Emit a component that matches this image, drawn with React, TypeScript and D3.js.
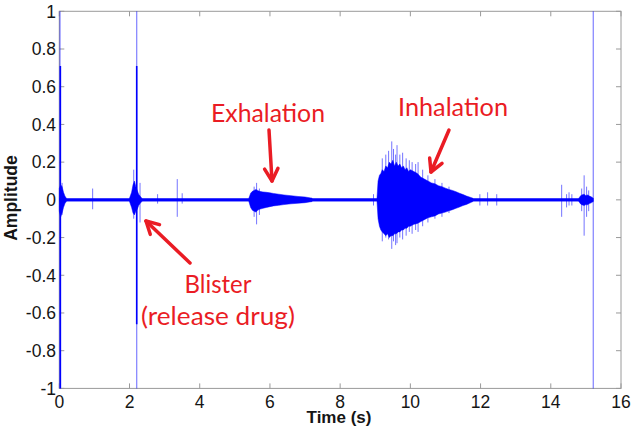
import React from "react";
import * as d3 from "d3";

// ---- axis ticks ----
const xTicks = [0, 2, 4, 6, 8, 10, 12, 14, 16];
const yTicks = [-1, -0.8, -0.6, -0.4, -0.2, 0, 0.2, 0.4, 0.6, 0.8, 1];
const yTickLabels = ["-1", "-0.8", "-0.6", "-0.4", "-0.2", "0", "0.2", "0.4", "0.6", "0.8", "1"];

// ---- baseline noise band ----
const baselineSpan = [0.0, 15.21];
const baselineNoise = 0.0085;

// ---- dense bursts (envelopes) ----
const startT = [0.0, 0.04, 0.08, 0.12, 0.16, 0.2];
const startUpper = [0.06, 0.08, 0.07, 0.04, 0.02, 0.009];
const startLower = [-0.06, -0.09, -0.07, -0.04, -0.02, -0.009];

const blisterT = [2.0, 2.06, 2.1, 2.14, 2.18, 2.22, 2.26, 2.3, 2.35];
const blisterUpper = [0.009, 0.04, 0.08, 0.1, 0.07, 0.05, 0.03, 0.02, 0.009];
const blisterLower = [-0.009, -0.04, -0.07, -0.08, -0.06, -0.05, -0.03, -0.02, -0.009];

const exhT = [5.4, 5.45, 5.5, 5.55, 5.6, 5.65, 5.7, 5.8, 5.9, 6.0, 6.1, 6.25, 6.4, 6.6, 6.8, 7.0, 7.2];
const exhUpper = [0.009, 0.035, 0.045, 0.05, 0.055, 0.05, 0.045, 0.042, 0.04, 0.037, 0.034, 0.03, 0.026, 0.022, 0.018, 0.015, 0.009];
const exhLower = [-0.009, -0.04, -0.055, -0.06, -0.065, -0.055, -0.05, -0.045, -0.04, -0.036, -0.032, -0.029, -0.025, -0.021, -0.018, -0.015, -0.009];

const inhT = [9.05, 9.08, 9.12, 9.16, 9.2, 9.25, 9.3, 9.35, 9.4, 9.45, 9.5, 9.55, 9.6, 9.65, 9.7, 9.75, 9.8, 9.85, 9.9, 9.95, 10.0, 10.1, 10.2, 10.3, 10.4, 10.5, 10.6, 10.7, 10.8, 10.9, 11.0, 11.1, 11.2, 11.3, 11.4, 11.5, 11.6, 11.7, 11.78];
const inhUpper = [0.009, 0.1, 0.13, 0.14, 0.16, 0.15, 0.18, 0.17, 0.2, 0.19, 0.21, 0.18, 0.2, 0.18, 0.19, 0.17, 0.18, 0.16, 0.17, 0.15, 0.16, 0.15, 0.14, 0.12, 0.11, 0.1, 0.09, 0.085, 0.075, 0.07, 0.062, 0.055, 0.05, 0.043, 0.035, 0.028, 0.02, 0.014, 0.009];
const inhLower = [-0.009, -0.1, -0.14, -0.16, -0.17, -0.18, -0.19, -0.18, -0.2, -0.19, -0.19, -0.18, -0.18, -0.17, -0.17, -0.16, -0.16, -0.15, -0.15, -0.14, -0.14, -0.13, -0.125, -0.115, -0.105, -0.095, -0.09, -0.085, -0.075, -0.07, -0.065, -0.058, -0.052, -0.045, -0.038, -0.03, -0.024, -0.016, -0.009];

const endT = [14.8, 14.85, 14.9, 14.95, 15.0, 15.05, 15.1, 15.15, 15.21];
const endUpper = [0.009, 0.022, 0.027, 0.03, 0.022, 0.026, 0.02, 0.016, 0.009];
const endLower = [-0.009, -0.022, -0.027, -0.03, -0.025, -0.026, -0.02, -0.016, -0.009];

// ---- thin spikes ----
const spikeT = [0.08, 0.95, 2.12, 2.3, 2.8, 3.36, 3.5, 5.55, 5.62, 5.7, 8.95, 9.2, 9.3, 9.38, 9.47, 9.52, 9.58, 9.62, 9.7, 9.78, 9.88, 9.97, 10.05, 10.15, 10.22, 10.35, 10.5, 10.7, 10.9, 11.1, 11.98, 12.2, 12.46, 14.31, 14.45, 14.52, 14.6, 14.88, 14.95, 15.02, 15.08];
const spikeTop = [0.09, 0.06, 0.16, 0.09, 0.03, 0.11, 0.035, 0.07, 0.09, 0.06, 0.03, 0.22, 0.24, 0.26, 0.31, 0.27, 0.24, 0.29, 0.24, 0.25, 0.22, 0.21, 0.2, 0.19, 0.2, 0.16, 0.13, 0.11, 0.09, 0.07, 0.03, 0.04, 0.03, 0.08, 0.03, 0.04, 0.03, 0.06, 0.13, 0.07, 0.05];
const spikeBottom = [-0.08, -0.05, -0.1, -0.12, -0.02, -0.09, -0.02, -0.09, -0.13, -0.08, -0.03, -0.22, -0.2, -0.21, -0.26, -0.22, -0.24, -0.23, -0.2, -0.21, -0.19, -0.17, -0.18, -0.16, -0.17, -0.14, -0.12, -0.1, -0.09, -0.07, -0.03, -0.03, -0.03, -0.09, -0.04, -0.03, -0.03, -0.06, -0.19, -0.09, -0.06];

// ---- large clipped spikes ----
const fullLineT = [0.02, 2.205, 15.21];
const strongT = [0.03, 2.205];
const strongTop = [0.71, 0.71];
const strongBottom = [-1, -0.66];

// ---- annotations ----
const annotations = [
  { lines: ["Exhalation"], x: 268, y: 122, len: [114] },
  { lines: ["Inhalation"], x: 453, y: 116, len: [110] },
  { lines: ["Blister", "(release drug)"], x: 218, y: 293, len: [67, 154] },
];
const arrows = [
  { x1: 269, y1: 130, x2: 272, y2: 181 },
  { x1: 449, y1: 130, x2: 431, y2: 172 },
  { x1: 190, y1: 263, x2: 146, y2: 221 },
];

const W = 633;
const H = 429;
const left = 59.3, right = 621, top = 11.3, bottom = 388.4;
const BLUE = "#0000ff";
const RED = "#ea1c24";

export default function App() {
  const x = d3.scaleLinear().domain([0, 16]).range([left, right]);
  const y = d3.scaleLinear().domain([-1, 1]).range([bottom, top]);

  const area = (ts: number[], up: number[], lo: number[]) =>
    d3
      .area<number>()
      .x((_, i) => x(ts[i]))
      .y0((_, i) => y(lo[i]))
      .y1((_, i) => y(up[i]))(ts) || "";

  const bursts = [
    area(startT, startUpper, startLower),
    area(blisterT, blisterUpper, blisterLower),
    area(exhT, exhUpper, exhLower),
    area(inhT, inhUpper, inhLower),
    area(endT, endUpper, endLower),
  ];

  const arrowHead = (a: { x1: number; y1: number; x2: number; y2: number }) => {
    const ang = Math.atan2(a.y2 - a.y1, a.x2 - a.x1);
    const L = 14, spread = 0.5;
    const p1 = [a.x2 - L * Math.cos(ang - spread), a.y2 - L * Math.sin(ang - spread)];
    const p2 = [a.x2 - L * Math.cos(ang + spread), a.y2 - L * Math.sin(ang + spread)];
    return `M${p1[0]},${p1[1]}L${a.x2},${a.y2}L${p2[0]},${p2[1]}`;
  };

  const tickFont = "'Liberation Sans', Arial, Helvetica, sans-serif";
  const axisColor = "#9a9a9a";

  return (
    <svg width={W} height={H} style={{ position: "absolute", left: 0, top: 0, background: "#fff" }}>
      <rect x={0} y={0} width={W} height={H} fill="#fff" />
      {/* box */}
      <rect x={left} y={top} width={right - left} height={bottom - top} fill="none" stroke={axisColor} strokeWidth={1} />
      {/* ticks */}
      {xTicks.map((t) => (
        <g key={"xt" + t}>
          <line x1={x(t)} x2={x(t)} y1={bottom} y2={bottom - 5} stroke={axisColor} />
          <line x1={x(t)} x2={x(t)} y1={top} y2={top + 5} stroke={axisColor} />
          <text x={x(t)} y={407.5} textAnchor="middle" fontFamily={tickFont} fontSize={17.5} fill="#151515">
            {t}
          </text>
        </g>
      ))}
      {yTicks.map((t, i) => (
        <g key={"yt" + i}>
          <line x1={left} x2={left + 5} y1={y(t)} y2={y(t)} stroke={axisColor} />
          <line x1={right} x2={right - 5} y1={y(t)} y2={y(t)} stroke={axisColor} />
          <text x={56} y={y(t) + 6.3} textAnchor="end" fontFamily={tickFont} fontSize={17.5} fill="#151515">
            {yTickLabels[i]}
          </text>
        </g>
      ))}
      {/* axis labels */}
      <text x={339} y={423} textAnchor="middle" fontFamily={tickFont} fontWeight="bold" fontSize={17} fill="#151515">
        Time (s)
      </text>
      <text
        transform="translate(17,198) rotate(-90)"
        textAnchor="middle"
        fontFamily={tickFont}
        fontWeight="bold"
        fontSize={17.5}
        fill="#151515"
      >
        Amplitude
      </text>

      {/* signal */}
      {fullLineT.map((t, i) => (
        <line key={"fl" + i} x1={x(t)} x2={x(t)} y1={y(1)} y2={y(-1)} stroke={BLUE} strokeOpacity={0.5} strokeWidth={1.2} />
      ))}
      {spikeT.map((t, i) => (
        <line key={"sp" + i} x1={x(t)} x2={x(t)} y1={y(spikeTop[i])} y2={y(spikeBottom[i])} stroke={BLUE} strokeOpacity={0.55} strokeWidth={1} />
      ))}
      <rect
        x={x(baselineSpan[0])}
        width={x(baselineSpan[1]) - x(baselineSpan[0])}
        y={y(baselineNoise)}
        height={y(-baselineNoise) - y(baselineNoise)}
        fill={BLUE}
      />
      {bursts.map((d, i) => (
        <path key={"b" + i} d={d} fill={BLUE} stroke={BLUE} strokeWidth={0.5} />
      ))}
      {strongT.map((t, i) => (
        <line key={"st" + i} x1={x(t)} x2={x(t)} y1={y(strongTop[i])} y2={y(strongBottom[i])} stroke={BLUE} strokeWidth={1.6} />
      ))}

      {/* annotations */}
      {annotations.map((a, i) => (
        <g key={"an" + i}>
          {a.lines.map((ln, j) => (
            <text
              key={j}
              x={a.x}
              y={a.y + j * 32}
              textAnchor="middle"
              fontFamily="Lato, 'Open Sans', sans-serif"
              fontSize={25}
              fill={RED}
              textLength={a.len[j]}
              lengthAdjust="spacingAndGlyphs"
            >
              {ln}
            </text>
          ))}
        </g>
      ))}
      {arrows.map((a, i) => (
        <g key={"ar" + i} stroke={RED} strokeWidth={3.5} fill="none" strokeLinecap="round" strokeLinejoin="round">
          <line x1={a.x1} y1={a.y1} x2={a.x2} y2={a.y2} />
          <path d={arrowHead(a)} />
        </g>
      ))}
    </svg>
  );
}
